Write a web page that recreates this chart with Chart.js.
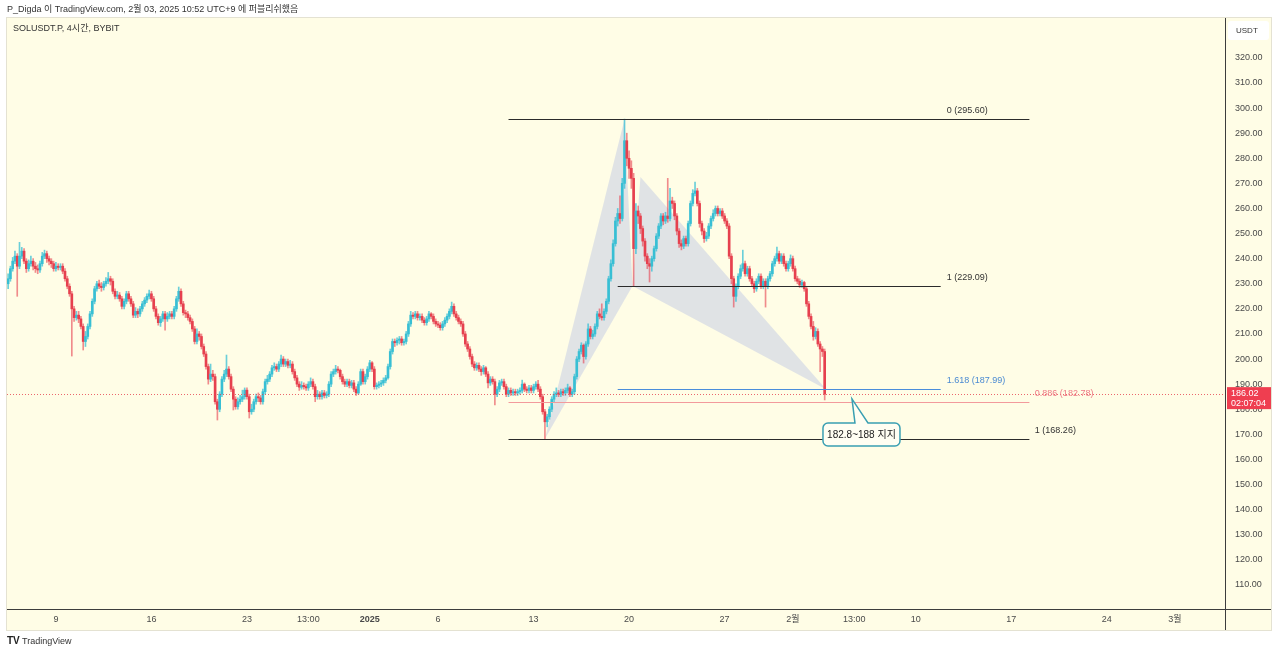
<!DOCTYPE html>
<html><head><meta charset="utf-8">
<script src="https://cdn.jsdelivr.net/npm/chart.js@4.4.1/dist/chart.umd.min.js"></script>
<style>html,body{margin:0;padding:0;background:#fff;overflow:hidden}canvas{display:block}</style>
</head><body><canvas id="c" width="1280" height="654"></canvas>
<script>
// ---- DATA (4h candles, SOLUSDT.P BYBIT) ----
const opens=[
230,232,236,239,241,237,241,243,239,236,
238,239,237,236,235.5,238,241,242,240,239,
238,236,237,236.5,237,235,232,229,226,220,
216.5,217.5,216,213,207,209,213,218,223,228,
230,229,228.5,230,231,232,231,227,225,225.5,
224,221,223,226,224,222,217.5,219,218,220,
222,223.5,225,226,224,220,217,214.5,216,218,
216,217,218,217,220,224,227,222,218.5,218,
216.5,215,212,207,210,209,205,202,197,192,
194,193,183,180,186,192,194,196,193,188,
184,181,183,184,185,187.6,185,179,180,183,
185,184.5,183,187,191,192,194,196.5,197,196,
198,200,198,199,197.5,198,195,192.5,190,188.8,
189.5,189,188.5,190,191,189,185,186,185,186.5,
185.5,186,190,194,195,196,195.5,193,191,190,
191,189.5,190.5,188,186.5,190,195,191,193,196,
198.5,196,189,189.5,190,190.5,191.5,192.5,197,203,
207,206.5,207.5,208,206.5,207,210,214,217.5,217,
218,216.5,217,215.5,214.5,216,218,217,215,214,
213.5,212.5,214,215.5,217,219,221,218,216.5,215,
214,210,206,204,201,198,196.5,197.5,196,195,
196.5,194,190.5,192,191,186,188,190.5,191,189,
186,187.5,186.5,187,186.5,187,187.5,190,188,187.5,
188.5,187.5,189,190,188,185,179,175,177,180,
184,186,186.5,186,187,186.5,187.5,188.5,186,187,
193,200,203,205.5,201,206,212,209,210,213,
218,217,216.5,219,223,232,238,246,255,258,
256,270,287,280,276,272,244,259,257,252,
247,241,238,237,240,244,249,253,257,255,
257,256,263,262,257,251,246,245,248,246,
254,262,266,267,262,254,251,248,249,253,
256,258,260,258,259,257,255,253,241,232,
225,229,233,236,238,234,236,232,230,228,
231,233,229,231,229,232,234,238,240,242,
239,241,238,236,238,240,236,232,231,229.5,
230.5,228,222,217,213,209,211,206,204,203];
const highs=[
234,237,240.5,243,242,246.5,244.5,244,240,239.5,
241,240,238.5,237.5,239,242.5,243.4,243,241,240,
239,238.5,238,238,238,236,233,230,227,221,
219,219,217,214,211,214,219,224,229,231,
231.5,230.5,231,232.5,234.5,233,232,228,227,226.5,
225,224,227,227,225,223,220.5,220,221,223,
224.5,226,227.5,227,225,221,218,217,219,219,
218.5,219,219,221,225,228.7,228,223,219.5,219,
217.5,216,213,212,211,210,206,203,198,198,
195.5,194,184,187,193,195.5,201.6,197,194,189,
185,184.5,185.5,187.6,188.5,188.5,186,182,184,186,
186.5,185.5,188,192,193.5,195,197.5,198.5,198,199,
201.6,201,200,200,199.5,199,196,193.5,191,191,
190.5,190,191,192.5,192,190,187.5,187,187.5,187.5,
187,191,195,196,197.5,197,196,194,192,192,
192,191.5,191.5,189,191,196,196,194,197,199.5,
199,197,190.5,191,191.5,192.5,193.5,198,204,208,
208,208.5,209,209,208,211,215,219,218.5,219,
219,218,218,216.5,217,219,218.5,218,216,215,
214.5,215,216.5,218,220,222.7,222,219,217.5,216,
215,211,207,205,202,199,198.5,198.5,197,197.5,
197,195,193,193,192,189,191.5,192,192,190,
188.5,188.5,188,188,188,188.5,191.6,190.5,189,189.5,
189.5,190,191,191.5,189,186,180,178,181,185,
187,188.5,187.5,188,188,188.5,190,189,188,194,
201,204,206.5,206,207,214,213,211.5,214,219,
220,222,220,224,233,239.5,247.5,256.5,260,265,
272,295.6,290,283,279,274,262,261,258,253,
248,242,240,241,245,250,254,258,258,258.5,
272,268,264.5,263,258,252,247.5,249,249,255,
263,267.5,270.5,268,263,255,252,250.5,254,257,
259.5,261,261,260,260,258,256,254,242,233,
230,234,237.5,243.4,239,237,237,233,231,232,
234,234,232,232,233,235,239,241,244.6,243,
242,242,239,239,241.5,241,237,233,232,231.5,
231,229,223,218,215,212.5,212,207,205,204];
const lows=[
228,231,235,238,225,236,240,238,234.5,235,
237,235.5,234.5,234,234.5,237,240,238.5,237.5,236.5,
235,235,235.5,235.5,234,231,228,225,201.2,215,
215.5,214.5,212,203.6,205,208,212,217,222,227,
228,227,227.5,229,230,229.5,226,224,224,223,
220,220,222,223,221,216.5,216.5,216.5,217,219,
221,222.5,224,223,219,216,213.5,213,215,211.5,
215,216,216,216,219,223,221,217.5,216.5,215.5,
214,211,206,206,207.5,204,201,196,190,191,
191.5,182,175.7,179,185,191,193,192,187,179.7,
180,180,182,183,184,184,176.5,178,179,182,
183,182,182,186,190,191,193,195.5,195,195,
197,197,197,196.5,196.5,194,191.5,189,187.5,188,
188,187.5,187.5,189,188,183,184,184,184,184.5,
184.5,185,189,193,194,194.5,192,190,189,189,
188.5,188.5,187,185.5,186,189.5,190,190,192,195,
195,188,188,188.5,189,189.5,190.5,192,196,202,
205,205.5,206,205.5,205.5,206,209,213,216,216,
215.5,215.5,214.5,213.5,213.5,215,216,214,213,212.5,
211.5,211.5,213,214.5,216,218,217,215.5,214,213,
209,205,203,200,197,195.5,195.5,195,193.5,194,
193,188.5,189.5,190,181.7,185,187,189.5,188,185,
185,185.5,185.5,185.5,185.5,186,186.5,187,186.5,186.5,
186.5,186.5,188,187,184,178,168.26,173,176,179,
183,185,185,185,185.5,185.5,186.5,185,185,186,
192,199,202,198.4,200,205,208,208,209,212,
216,215.5,215.5,218,222,231,237,245,253,254,
255,268,277,272,268,229.09,242,254,250,245,
239,236,230.7,235,239,243,248,252,253.5,254,
254.5,255,260,255.5,249.5,244.5,243.5,244,245,245,
253,261,265,261,252.5,249.5,246.5,247,248,252,
255,257,257,257,256,254,252,240,230,220.7,
223,228,232,235,233,233,231,229,226.5,227,
230,228,228,220.7,228,231,233,237,239,238,
238,237,235,235,237,235,231,230,228.5,228.5,
227,221,216,212,207.5,208,205,195,201,183.7];
const closes=[
232,236,239,241,237,241,243,239,236,238,
239,237,236,235.5,238,241,242,240,239,238,
236,237,236.5,237,235,232,229,226,220,216.5,
217.5,216,213,207,209,213,218,223,228,230,
229,228.5,230,231,232,231,227,225,225.5,224,
221,223,226,224,222,217.5,219,218,220,222,
223.5,225,226,224,220,217,214.5,216,218,216,
217,218,217,220,224,227,222,218.5,218,216.5,
215,212,207,210,209,205,202,197,192,194,
193,183,180,186,192,194,196,193,188,184,
181,183,184,185,187.6,185,179,180,183,185,
184.5,183,187,191,192,194,196.5,197,196,198,
200,198,199,197.5,198,195,192.5,190,188.8,189.5,
189,188.5,190,191,189,185,186,185,186.5,185.5,
186,190,194,195,196,195.5,193,191,190,191,
189.5,190.5,188,186.5,190,195,191,193,196,198.5,
196,189,189.5,190,190.5,191.5,192.5,197,203,207,
206.5,207.5,208,206.5,207,210,214,217.5,217,218,
216.5,217,215.5,214.5,216,218,217,215,214,213.5,
212.5,214,215.5,217,219,221,218,216.5,215,214,
210,206,204,201,198,196.5,197.5,196,195,196.5,
194,190.5,192,191,186,188,190.5,191,189,186,
187.5,186.5,187,186.5,187,187.5,190,188,187.5,188.5,
187.5,189,190,188,185,179,175,177,180,184,
186,186.5,186,187,186.5,187.5,188.5,186,187,193,
200,203,205.5,201,206,212,209,210,213,218,
217,216.5,219,223,232,238,246,255,258,256,
270,287,280,276,272,244,259,257,252,247,
241,238,237,240,244,249,253,257,255,257,
256,263,262,257,251,246,245,248,246,254,
262,266,267,262,254,251,248,249,253,256,
258,260,258,259,257,255,253,241,232,225,
229,233,236,238,234,236,232,230,228,231,
233,229,231,229,232,234,238,240,242,239,
241,238,236,238,240,236,232,231,229.5,230.5,
228,222,217,213,209,211,206,204,203,186.02];

const xTickIndex=[21,63,105,132,159,189,231,273,315,345,372,399,441,483,513];
const xTickLabels=['9','16','23','13:00','2025','6','13','20','27','2월','13:00','10','17','24','3월'];
const yTickValues=[110,120,130,140,150,160,170,180,190,200,210,220,230,240,250,260,270,280,290,300,310,320];

const fibPrices=[295.60,229.09,187.99,182.78,168.26];
const fibLabels=['0 (295.60)','1 (229.09)','1.618 (187.99)','0.886 (182.78)','1 (168.26)'];
const fibFromIdx=[220,268,268,220,220];
const fibToIdx=[449,410,410,449,449];

const patternIdx=[236,271,274.5,278,359.6];       // X A B C D
const patternPrice=[168.26,295.60,229.09,272.5,187.99];

const lastPrice=186.02;
const countdown='02:07:04';
const calloutText='182.8~188 지지';
const calloutIdx=371;
const calloutPrice=184.1;

const headerText='P_Digda 이 TradingView.com, 2월 03, 2025 10:52 UTC+9 에 퍼블리쉬했음';
const symbolText='SOLUSDT.P, 4시간, BYBIT';

// ---- STYLE ----
const FONT="'Liberation Sans','Noto Sans CJK KR',sans-serif";
const BG='#fffde6';
const UP='#38bfd4', DOWN='#e6404e';
const WUP='rgba(56,191,212,0.75)', WDN='rgba(230,64,78,0.6)';
const fibColors=['#2b2b2b','#2b2b2b','#4a8ddb','#f39a9c','#2b2b2b'];
const fibTextColors=['#333','#333','#4a8ad2','#ee7a86','#333'];
const fibLabelIdx=[412.7,412.7,412.7,451.4,451.4];

const N=closes.length;
const idx=[...Array(N).keys()];
const isUp=idx.map(i=>closes[i]>=opens[i]);

const decor={
  id:'decor',
  beforeDraw(chart){
    const {ctx,chartArea:a}=chart;
    ctx.save();
    ctx.fillStyle='#fff';ctx.fillRect(0,0,chart.width,chart.height);
    ctx.fillStyle=BG;ctx.fillRect(a.left,a.top,1271-a.left,630-a.top);
    ctx.strokeStyle='#e4e2d2';ctx.lineWidth=1;
    ctx.strokeRect(a.left-0.5,a.top-0.5,1271-a.left+1,630-a.top+1);
    ctx.restore();
  },
  beforeDatasetsDraw(chart){
    const {ctx,chartArea:a,scales:{x,y}}=chart;
    const P=patternIdx.map((v,k)=>[x.getPixelForValue(v),y.getPixelForValue(patternPrice[k])]);
    ctx.save();
    ctx.beginPath();ctx.rect(a.left,a.top,a.right-a.left,a.bottom-a.top);ctx.clip();
    ctx.fillStyle='rgba(130,150,228,0.25)';
    [[0,1,2],[2,3,4]].forEach(t=>{
      ctx.beginPath();ctx.moveTo(P[t[0]][0],P[t[0]][1]);
      ctx.lineTo(P[t[1]][0],P[t[1]][1]);ctx.lineTo(P[t[2]][0],P[t[2]][1]);ctx.closePath();ctx.fill();
    });
    ctx.restore();
  },
  afterDatasetsDraw(chart){
    const {ctx,chartArea:a,scales:{x,y}}=chart;
    ctx.save();
    ctx.beginPath();ctx.rect(a.left,a.top,a.right-a.left,a.bottom-a.top);ctx.clip();
    const lp=Math.round(y.getPixelForValue(lastPrice))+0.5;
    ctx.strokeStyle='rgba(230,64,78,0.8)';ctx.lineWidth=1;ctx.setLineDash([1,2]);
    ctx.beginPath();ctx.moveTo(a.left,lp);ctx.lineTo(a.right,lp);ctx.stroke();
    ctx.setLineDash([]);
    ctx.font='9px '+FONT;ctx.textBaseline='middle';ctx.textAlign='left';
    fibPrices.forEach((p,k)=>{
      const yy=Math.round(y.getPixelForValue(p))+0.5;
      ctx.strokeStyle=fibColors[k];ctx.lineWidth=1;
      ctx.beginPath();ctx.moveTo(x.getPixelForValue(fibFromIdx[k]),yy);ctx.lineTo(x.getPixelForValue(fibToIdx[k]),yy);ctx.stroke();
      ctx.fillStyle=fibTextColors[k];
      ctx.fillText(fibLabels[k],x.getPixelForValue(fibLabelIdx[k]),yy-8.5);
    });
    const tx=x.getPixelForValue(calloutIdx), ty=y.getPixelForValue(calloutPrice);
    const bl=tx-29, br=tx+48, bt=ty+24, bb=ty+47, r=5;
    const p1=tx+3, p2=tx+16;
    ctx.beginPath();
    ctx.moveTo(bl+r,bt);ctx.lineTo(p1,bt);ctx.lineTo(tx,ty);ctx.lineTo(p2,bt);
    ctx.lineTo(br-r,bt);ctx.arcTo(br,bt,br,bt+r,r);ctx.lineTo(br,bb-r);ctx.arcTo(br,bb,br-r,bb,r);
    ctx.lineTo(bl+r,bb);ctx.arcTo(bl,bb,bl,bb-r,r);ctx.lineTo(bl,bt+r);ctx.arcTo(bl,bt,bl+r,bt,r);ctx.closePath();
    ctx.fillStyle='#fffef2';ctx.fill();
    ctx.strokeStyle='#3a9fb2';ctx.lineWidth=1.5;ctx.stroke();
    ctx.fillStyle='#222';ctx.font='10px '+FONT;ctx.textAlign='center';
    ctx.fillText(calloutText,(bl+br)/2,(bt+bb)/2+0.5);
    ctx.restore();
  },
  afterDraw(chart){
    const {ctx,chartArea:a,scales:{y}}=chart;
    ctx.save();
    ctx.strokeStyle='#3d3d3d';ctx.lineWidth=1;
    ctx.beginPath();ctx.moveTo(a.left,a.bottom+0.5);ctx.lineTo(1271,a.bottom+0.5);ctx.stroke();
    ctx.beginPath();ctx.moveTo(a.right+0.5,a.top);ctx.lineTo(a.right+0.5,630);ctx.stroke();
    ctx.fillStyle='#fff';ctx.beginPath();ctx.roundRect(a.right+3,21,41,19,3);ctx.fill();
    ctx.fillStyle='#333';ctx.font='8px '+FONT;ctx.textBaseline='middle';ctx.textAlign='left';
    ctx.fillText('USDT',a.right+11,30.5);
    const lp=y.getPixelForValue(lastPrice);
    ctx.fillStyle='#ef3e50';ctx.fillRect(a.right+2,lp-7,44,22);
    ctx.fillStyle='#fff';ctx.font='9px '+FONT;
    ctx.fillText(lastPrice.toFixed(2),a.right+6,lp-0.5);
    ctx.fillText(countdown,a.right+6,lp+9);
    ctx.fillStyle='#333';ctx.font='9px '+FONT;
    ctx.fillText(headerText,7,9.5);
    ctx.fillText(symbolText,13,28.5);
    ctx.font='bold 10px '+FONT;ctx.fillStyle='#222';
    ctx.fillText('TV',7,641.5);
    ctx.font='9px '+FONT;ctx.fillStyle='#333';
    ctx.fillText('TradingView',22,641.5);
    ctx.restore();
  }
};

new Chart(document.getElementById('c').getContext('2d'),{
  type:'bar',
  data:{datasets:[
    {data:idx.map(i=>({x:i,y:[lows[i],highs[i]]})),backgroundColor:idx.map(i=>isUp[i]?WUP:WDN),
     barThickness:1,grouped:false,order:2},
    {data:idx.map(i=>({x:i,y:[opens[i],closes[i]]})),backgroundColor:idx.map(i=>isUp[i]?UP:DOWN),
     barThickness:2,grouped:false,minBarLength:1,order:1}
  ]},
  options:{
    responsive:false,animation:false,devicePixelRatio:1,
    layout:{padding:{left:7,top:18,right:10,bottom:24}},
    plugins:{legend:{display:false},tooltip:{enabled:false}},
    scales:{
      x:{type:'linear',min:-0.5,max:535,offset:false,
        grid:{display:false,drawTicks:false},border:{display:false},
        afterBuildTicks:s=>{s.ticks=xTickIndex.map(v=>({value:v}));},
        afterFit:s=>{s.height=21;},
        ticks:{autoSkip:false,maxRotation:0,padding:5,color:'#4a4a4a',
          font:c=>({family:FONT,size:9,weight:(c.index===4)?'bold':'normal'}),
          callback:(v,i)=>xTickLabels[i]}},
      y:{position:'right',min:100.4,max:335.9,
        grid:{display:false,drawTicks:false},border:{display:false},
        afterBuildTicks:s=>{s.ticks=yTickValues.map(v=>({value:v}));},
        afterFit:s=>{s.width=45;},
        ticks:{padding:10,color:'#4a4a4a',font:{family:FONT,size:9},callback:v=>Number(v).toFixed(2)}}
    }
  },
  plugins:[decor]
});
</script></body></html>
